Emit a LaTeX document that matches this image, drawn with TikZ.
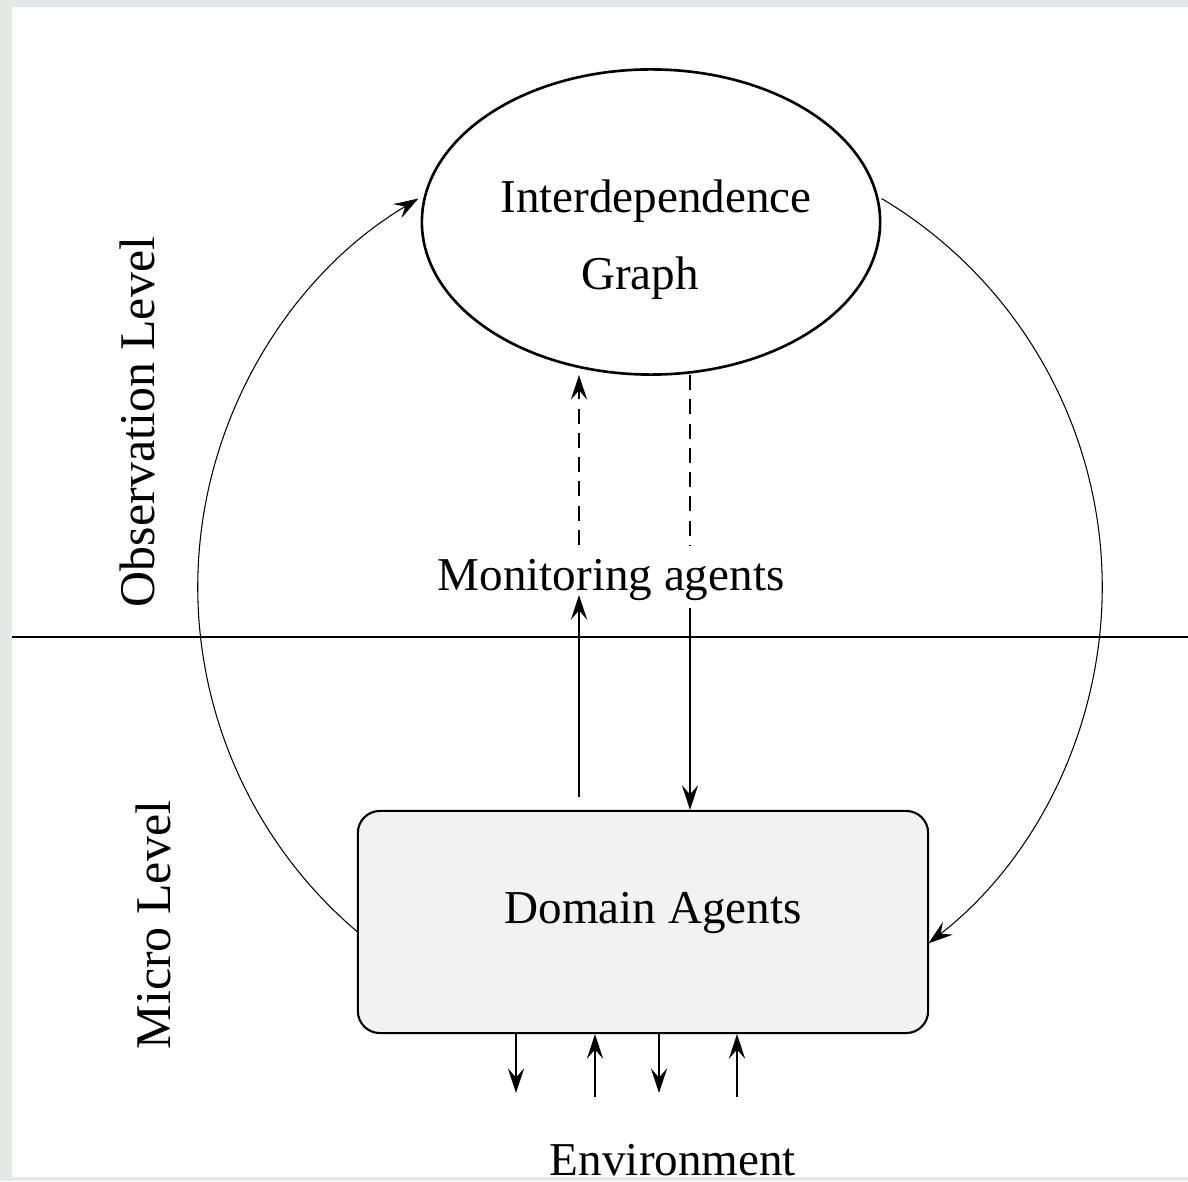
\documentclass[tikz,border=0pt]{standalone}
\usepackage{fontspec}
\setmainfont{Liberation Serif}
\usetikzlibrary{arrows.meta,calc,shapes.geometric}
\definecolor{paper}{HTML}{E5E9E5}
\definecolor{boxfill}{HTML}{F2F2F2}
\begin{document}
\begin{tikzpicture}[x=0.01cm,y=0.01cm,
  lbl/.style={font=\fontsize{13.4}{16}\selectfont, inner sep=0pt, anchor=base},
  side/.style={font=\fontsize{14.2}{17}\selectfont, inner sep=0pt, anchor=base, rotate=90},
  tip/.style={-{Stealth[length=7pt,width=4.6pt,inset=2.6pt]}},
  arcline/.style={line width=0.3pt},
  mainline/.style={line width=0.6pt},
  dashline/.style={line width=0.6pt, dash pattern=on 4.3pt off 2.6pt},
]
% sheet and margins
\fill[paper] (0,0) rectangle (1188,1181);
\fill[white] (12,4) rectangle (1188,1174);
\useasboundingbox (0,0) rectangle (1188,1181);

% level separator
\coordinate (sepL) at (12,544);
\coordinate (sepR) at (1188,544);
\draw[mainline] (sepL) -- (sepR);

% interdependence graph
\node[ellipse, draw, line width=0.75pt, minimum width=4.58cm, minimum height=3.05cm, inner sep=0pt] (G) at (651,959) {};
\node[lbl] (gt1) at (656,968) {Interdependence};
\node[lbl] (gt2) at (640,891) {Graph};

% domain agents
\node[draw, mainline, fill=boxfill, rounded corners=0.22cm, minimum width=5.7cm, minimum height=2.22cm, inner sep=0pt] (D) at (643,259) {};
\node[lbl] (dt) at (653,258) {Domain Agents};

% monitoring agents
\node[lbl] (M) at (611,591) {Monitoring agents};

% level labels
\node[side] (obs) at (154,759) {Observation Level};
\node[side] (mic) at (170,256) {Micro Level};

% environment
\node[lbl] (E) at (673,6) {Environment};

% feedback loop around both levels
\coordinate (C) at (650,594);
\draw[arcline, tip] ($(C)+(229.8:4.52cm)$) arc[start angle=229.8, end angle=120.8, radius=4.52cm];
\draw[arcline, tip] ($(C)+(59.2:4.52cm)$) arc[start angle=59.2, end angle=-52, radius=4.52cm];

% monitoring links (dashed, observation level)
\coordinate (du0) at (579,636);
\coordinate (du1) at (579,806);
\coordinate (dd0) at (690,806);
\coordinate (dd1) at (690,636);
\draw[dashline, tip] (du0) -- (du1);
\draw[dashline] (dd0) -- (dd1);

% monitoring links (solid, micro level)
\coordinate (su0) at (579,384);
\coordinate (su1) at (579,586);
\coordinate (sd0) at (690,573);
\draw[mainline, tip] (su0) -- (su1);
\draw[mainline, tip] (sd0) -- (sd0 |- D.north);

% exchange with the environment
\coordinate (e1) at (516,88);
\coordinate (e2) at (595,84);
\coordinate (e3) at (659,88);
\coordinate (e4) at (737,84);
\draw[mainline, tip] (e1 |- D.south) -- (e1);
\draw[mainline, tip] (e2) -- (e2 |- D.south);
\draw[mainline, tip] (e3 |- D.south) -- (e3);
\draw[mainline, tip] (e4) -- (e4 |- D.south);
\end{tikzpicture}
\end{document}
